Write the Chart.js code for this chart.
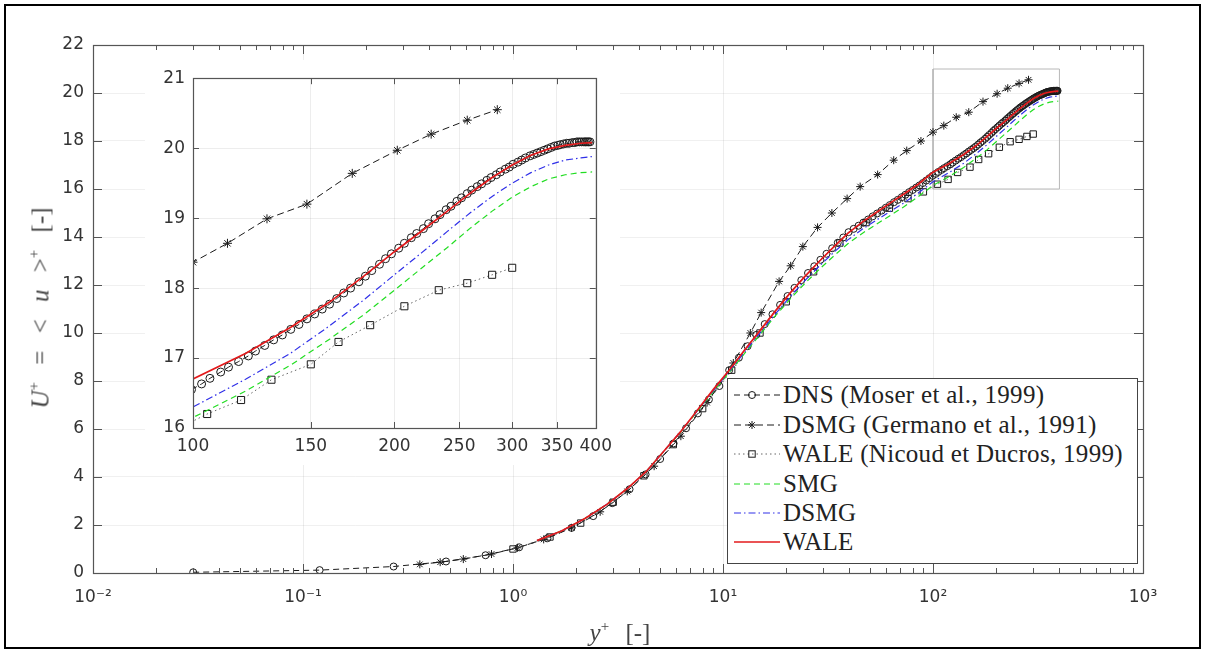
<!DOCTYPE html>
<html>
<head>
<meta charset="utf-8">
<script src="https://cdn.jsdelivr.net/npm/chart.js@4.4.1/dist/chart.umd.min.js"></script>
<style>
  html, body { margin: 0; padding: 0; background: #fff; }
  #wrap { position: relative; width: 1207px; height: 654px; overflow: hidden; }
  #main { position: absolute; left: 0; top: 0; }
  #inset { position: absolute; left: 145px; top: 60px; background: #fff; }
  #frame { position: absolute; left: 4px; top: 4px; width: 1197px; height: 645px; box-sizing: border-box; border: 2px solid #000; pointer-events: none; }
  .title { position: absolute; white-space: nowrap; font-family: 'Liberation Serif', serif; font-size: 25px; color: #444; line-height: 1; }
  .title sup { font-size: 15px; line-height: 0; vertical-align: 10px; }
  #ytitle { left: 40px; top: 308px; transform: translate(-50%, -50%) rotate(-90deg); word-spacing: 11px; }
  #xtitle { left: 620px; top: 632px; transform: translate(-50%, -50%); word-spacing: 10px; }
  #legend { position: absolute; left: 727px; top: 378px; width: 411px; height: 186px; box-sizing: border-box; border: 1px solid #444; background: #fff; }
  .row { position: absolute; left: 4px; height: 26px; display: flex; align-items: center; }
  .row svg { width: 50px; height: 20px; margin-right: 1px; }
  .row span { font-family: 'Liberation Serif', serif; font-size: 25px; letter-spacing: 0.3px; color: #222; white-space: nowrap; }
</style>
</head>
<body>
<div id="wrap">
  <canvas id="main" width="1207" height="654"></canvas>
  <canvas id="inset" width="475" height="405"></canvas>
  <div id="legend"></div>
  <div class="title" id="ytitle"><i>U</i><sup>+</sup> = &lt; <i>u</i> &gt;<sup>+</sup> [-]</div>
  <div class="title" id="xtitle"><i>y</i><sup>+</sup> [-]</div>
  <div id="frame"></div>
</div>
<script>
// x axis: y+ decades and their labels
const xDecades = [0.01, 0.1, 1, 10, 100, 1000];
const xDecadeLabels = ['10⁻²', '10⁻¹', '10⁰', '10¹', '10²', '10³'];
const insetXTicks = [100, 150, 200, 250, 300, 350, 400];

// DNS (Moser et al., 1999)
const dnsYp = [0.03, 0.12, 0.27, 0.48, 0.74, 1.07, 1.46, 1.90, 2.41, 2.97, 3.59, 4.28, 5.02, 5.82, 6.67, 7.59, 8.57, 9.61,
  10.7, 11.9, 13.1, 14.4, 15.8, 17.2, 18.7, 20.3, 21.9, 23.6, 25.4, 27.2, 29.1, 31.1, 33.1, 35.2, 37.4, 39.6,
  41.9, 44.2, 46.6, 49.1, 51.6, 54.2, 56.9, 59.6, 62.3, 65.2, 68.0, 71.0, 73.9, 77.0, 80.0, 83.2, 86.3, 89.5, 92.8, 96.1, 99.5,
  103, 106, 110, 113, 117, 121, 124, 128, 132, 136, 140, 144, 148, 152, 156, 160, 164, 168, 172, 177, 181, 185, 190, 194, 198,
  203, 207, 212, 216, 221, 225, 230, 234, 239, 243, 248, 252, 257, 261, 266, 270, 275, 279, 284, 288, 293, 297,
  301, 306, 310, 314, 319, 323, 327, 331, 335, 339, 343, 347, 351, 354, 358, 362, 365, 369, 372, 375, 378, 381, 384, 386, 388, 390, 392];
const dnsUp = [0.03, 0.12, 0.27, 0.48, 0.74, 1.07, 1.45, 1.88, 2.37, 2.91, 3.49, 4.11, 4.75, 5.40, 6.03, 6.65, 7.23, 7.79,
  8.45, 8.97, 9.45, 9.92, 10.37, 10.78, 11.17, 11.54, 11.88, 12.20, 12.50, 12.78, 13.05, 13.30, 13.53, 13.76, 13.98, 14.20,
  14.34, 14.47, 14.60, 14.73, 14.86, 14.98, 15.10, 15.22, 15.33, 15.45, 15.55, 15.66, 15.76, 15.87, 15.96, 16.06, 16.15, 16.25, 16.35, 16.45, 16.55,
  16.63, 16.71, 16.80, 16.87, 16.95, 17.03, 17.10, 17.18, 17.26, 17.33, 17.41, 17.48, 17.56, 17.63, 17.70, 17.77, 17.85, 17.93, 18.00, 18.09, 18.17, 18.25, 18.34, 18.42, 18.49,
  18.57, 18.64, 18.72, 18.78, 18.85, 18.92, 18.99, 19.05, 19.12, 19.17, 19.24, 19.29, 19.35, 19.40, 19.45, 19.49, 19.54, 19.58, 19.62, 19.66, 19.70, 19.73,
  19.77, 19.80, 19.83, 19.86, 19.89, 19.91, 19.93, 19.95, 19.97, 19.99, 20.01, 20.03, 20.04, 20.05, 20.06, 20.07, 20.07, 20.08, 20.08, 20.09, 20.09, 20.09, 20.09, 20.09, 20.09, 20.09, 20.09];

// DSMG (Germano et al., 1991)
const germYp = [0.36, 0.45, 0.58, 0.79, 1.05, 1.4, 1.9, 2.6, 3.5, 4.7, 6.3, 8.4, 11.2, 13.5, 15.2, 18.5, 21, 24, 28.2, 33, 39, 45,
  54.5, 65, 75, 87.6, 100, 112.6, 129, 148, 173, 202, 227, 257, 285];
const germUp = [0.36, 0.45, 0.58, 0.79, 1.05, 1.4, 1.88, 2.55, 3.4, 4.45, 5.7, 7.1, 8.75, 10.0, 10.85, 12.15, 12.8, 13.6, 14.4, 15.0, 15.6, 16.1,
  16.6, 17.2, 17.6, 18.0, 18.37, 18.64, 18.99, 19.2, 19.64, 19.97, 20.2, 20.4, 20.55];

// WALE (Nicoud et Ducros, 1999)
const ndYp = [1.0, 1.5, 2.1, 3.0, 4.2, 5.8, 8, 11, 15, 20, 27, 36, 48, 62, 76, 90, 105, 118, 131, 150, 165, 184, 207, 233, 257, 280, 300];
const ndUp = [1.0, 1.5, 2.08, 2.95, 4.05, 5.35, 6.85, 8.45, 10.0, 11.3, 12.55, 13.75, 14.6, 15.2, 15.6, 15.88, 16.2, 16.4, 16.69, 16.91,
  17.23, 17.47, 17.74, 17.97, 18.07, 18.19, 18.29];

// present LES runs (shared wall-normal grid)
const lesYp = [1.3, 1.7, 2.2, 2.8, 3.5, 4.3, 5.2, 6.3, 7.5, 9, 10.7, 12.7, 15, 17.7, 20.8, 24.5, 28.7, 33.6, 39.3, 46, 53.7, 62.7, 73, 85,
  100, 120, 140, 160, 180, 200, 220, 240, 260, 280, 300, 320, 340, 360, 380, 395];
const smgUp = [1.35, 1.75, 2.27, 2.86, 3.52, 4.22, 5.05, 5.88, 6.7, 7.56, 8.35, 9.16, 9.93, 10.7, 11.4, 12.06, 12.65, 13.2, 13.72, 14.15, 14.53, 14.9, 15.27, 15.68,
  16.15, 16.53, 16.9, 17.27, 17.62, 17.97, 18.29, 18.58, 18.86, 19.1, 19.3, 19.45, 19.56, 19.62, 19.65, 19.66];
const dsmgUp = [1.35, 1.75, 2.27, 2.86, 3.52, 4.22, 5.05, 5.9, 6.72, 7.6, 8.4, 9.22, 10.0, 10.78, 11.5, 12.18, 12.78, 13.35, 13.88, 14.32, 14.7, 15.07, 15.43, 15.83,
  16.3, 16.7, 17.07, 17.46, 17.83, 18.19, 18.51, 18.81, 19.08, 19.31, 19.5, 19.65, 19.76, 19.83, 19.86, 19.88];
const waleUp = [1.35, 1.75, 2.27, 2.86, 3.52, 4.22, 5.05, 5.9, 6.75, 7.65, 8.45, 9.3, 10.1, 10.9, 11.65, 12.35, 12.98, 13.58, 14.15, 14.62, 15.02, 15.42, 15.8, 16.2,
  16.7, 17.07, 17.44, 17.8, 18.17, 18.52, 18.82, 19.1, 19.36, 19.58, 19.76, 19.9, 19.99, 20.04, 20.07, 20.08];

// box showing the zoomed region on the main plot
const zoomBoxX = [100, 400, 400, 100, 100];
const zoomBoxY = [16, 16, 21, 21, 16];

const series = [
  { label: 'DNS (Moser et al., 1999)', x: dnsYp, y: dnsUp, color: '#1a1a1a', dash: [6, 4], marker: 'circle', width: 1 },
  { label: 'DSMG (Germano et al., 1991)', x: germYp, y: germUp, color: '#1a1a1a', dash: [7, 4], marker: 'star', width: 1 },
  { label: 'WALE (Nicoud et Ducros, 1999)', x: ndYp, y: ndUp, color: '#666', dash: [1.5, 3], marker: 'rect', width: 1 },
  { label: 'SMG', x: lesYp, y: smgUp, color: '#22dd22', dash: [6, 4], marker: null, width: 1.2 },
  { label: 'DSMG', x: lesYp, y: dsmgUp, color: '#3030e8', dash: [7, 3, 1.5, 3], marker: null, width: 1.2 },
  { label: 'WALE', x: lesYp, y: waleUp, color: '#e31a1c', dash: [], marker: null, width: 1.7 }
];

function pts(xs, ys) {
  return xs.map((x, i) => ({ x: x, y: ys[i] }));
}

function isDecade(v) {
  const l = Math.log10(v);
  return Math.abs(l - Math.round(l)) < 1e-6;
}

function makeSets(inset) {
  const sets = series.map((s, i) => {
    let r = 0;
    if (s.marker === 'circle') r = inset ? 4 : 3.5;
    if (s.marker === 'star') r = inset ? 4.5 : 4;
    if (s.marker === 'rect') r = inset ? 5 : 4.5;
    return {
      label: s.label,
      data: pts(s.x, s.y),
      borderColor: s.color,
      borderWidth: s.width,
      borderDash: s.dash,
      pointStyle: s.marker || 'circle',
      pointRadius: r,
      pointBorderColor: '#1a1a1a',
      pointBorderWidth: 1,
      pointBackgroundColor: 'rgba(0,0,0,0)',
      tension: 0,
      fill: false,
      order: series.length - i
    };
  });
  if (!inset) {
    sets.push({
      label: 'zoom',
      data: pts(zoomBoxX, zoomBoxY),
      borderColor: '#b8b8b8',
      borderWidth: 1,
      pointRadius: 0,
      tension: 0,
      fill: false,
      order: 10
    });
  }
  return sets;
}

// inward tick marks and a box around the plot area, MATLAB style
const frameTicks = {
  id: 'frameTicks',
  afterDraw(chart, args, opts) {
    const { ctx, chartArea: a } = chart;
    const xs = chart.scales.x, ys = chart.scales.y;
    ctx.save();
    ctx.strokeStyle = opts.color;
    ctx.lineWidth = 1;
    ctx.beginPath();
    xs.ticks.forEach(t => {
      const px = Math.round(xs.getPixelForValue(t.value)) + 0.5;
      const len = t.major ? opts.major : opts.minor;
      ctx.moveTo(px, a.bottom); ctx.lineTo(px, a.bottom - len);
      ctx.moveTo(px, a.top); ctx.lineTo(px, a.top + len);
    });
    ys.ticks.forEach(t => {
      const py = Math.round(ys.getPixelForValue(t.value)) + 0.5;
      ctx.moveTo(a.left, py); ctx.lineTo(a.left + opts.major, py);
      ctx.moveTo(a.right, py); ctx.lineTo(a.right - opts.major, py);
    });
    ctx.stroke();
    ctx.lineWidth = 1.2;
    ctx.strokeRect(Math.round(a.left) + 0.5, Math.round(a.top) + 0.5, Math.round(a.width), Math.round(a.height));
    ctx.restore();
  }
};

const tickFont = { family: 'DejaVu Sans', size: 17 };

// main chart
const mainXTicks = [];
xDecades.forEach(d => {
  if (d >= 1000) { mainXTicks.push(d); return; }
  for (let m = 1; m <= 9; m++) mainXTicks.push(m * d);
});

new Chart(document.getElementById('main'), {
  type: 'line',
  data: { datasets: makeSets(false) },
  plugins: [frameTicks],
  options: {
    responsive: false,
    animation: false,
    devicePixelRatio: 1,
    events: [],
    layout: { padding: { top: 45, right: 64, left: 0, bottom: 0 } },
    plugins: {
      legend: { display: false },
      tooltip: { enabled: false },
      frameTicks: { color: '#555', major: 9, minor: 5 }
    },
    scales: {
      x: {
        type: 'logarithmic',
        min: 0.01,
        max: 1000,
        afterBuildTicks: s => { s.ticks = mainXTicks.map(v => ({ value: v, major: isDecade(v) })); },
        afterFit: s => { s.height = 81; },
        ticks: {
          autoSkip: false, maxRotation: 0, padding: 14, color: '#333', font: tickFont,
          callback: v => {
            const i = xDecades.findIndex(d => Math.abs(v / d - 1) < 1e-6);
            return i >= 0 ? xDecadeLabels[i] : '';
          }
        },
        grid: { drawTicks: false, color: c => (c.tick && c.tick.major) ? 'rgba(0,0,0,0.07)' : 'rgba(0,0,0,0)' },
        border: { display: false }
      },
      y: {
        type: 'linear',
        min: 0,
        max: 22,
        afterFit: s => { s.width = 93; },
        ticks: { stepSize: 2, padding: 9, color: '#333', font: tickFont },
        grid: { drawTicks: false, color: 'rgba(0,0,0,0.06)' },
        border: { display: false }
      }
    }
  }
});

// inset chart (zoom on the outer layer)
new Chart(document.getElementById('inset'), {
  type: 'line',
  data: { datasets: makeSets(true) },
  plugins: [frameTicks],
  options: {
    responsive: false,
    animation: false,
    devicePixelRatio: 1,
    events: [],
    layout: { padding: { top: 18, right: 18, left: 0, bottom: 0 } },
    plugins: {
      legend: { display: false },
      tooltip: { enabled: false },
      frameTicks: { color: '#555', major: 6, minor: 6 }
    },
    scales: {
      x: {
        type: 'logarithmic',
        min: 100,
        max: 400,
        afterBuildTicks: s => { s.ticks = insetXTicks.map(v => ({ value: v, major: true })); },
        afterFit: s => { s.height = 37; },
        ticks: { autoSkip: false, maxRotation: 0, padding: 8, color: '#333', font: tickFont, callback: v => String(v) },
        grid: { drawTicks: false, color: 'rgba(0,0,0,0.07)' },
        border: { display: false }
      },
      y: {
        type: 'linear',
        min: 16,
        max: 21,
        afterFit: s => { s.width = 48; },
        ticks: { stepSize: 1, padding: 8, color: '#333', font: tickFont },
        grid: { drawTicks: false, color: 'rgba(0,0,0,0.07)' },
        border: { display: false }
      }
    }
  }
});

// legend, drawn as HTML with small line samples
const legend = document.getElementById('legend');
const rowTops = [3, 33, 62, 92, 121, 150];
series.forEach((s, i) => {
  const row = document.createElement('div');
  row.className = 'row';
  row.style.top = rowTops[i] + 'px';
  const dash = s.dash.length ? s.dash.join(' ') : 'none';
  let mark = '';
  if (s.marker === 'circle') mark = '<circle cx="20" cy="10" r="3.5" fill="none" stroke="#1a1a1a" stroke-width="1"/>';
  if (s.marker === 'star') mark = '<path d="M16 10h8M20 6v8M17.2 7.2l5.6 5.6M22.8 7.2l-5.6 5.6" stroke="#1a1a1a" stroke-width="1"/>';
  if (s.marker === 'rect') mark = '<rect x="16.8" y="6.8" width="6.4" height="6.4" fill="none" stroke="#1a1a1a" stroke-width="1"/>';
  row.innerHTML = '<svg viewBox="0 0 50 20"><line x1="2" y1="10" x2="48" y2="10" stroke="' + s.color + '" stroke-width="' + s.width +
    '" stroke-dasharray="' + dash + '"/>' + mark + '</svg><span>' + s.label + '</span>';
  legend.appendChild(row);
});
</script>
</body>
</html>
